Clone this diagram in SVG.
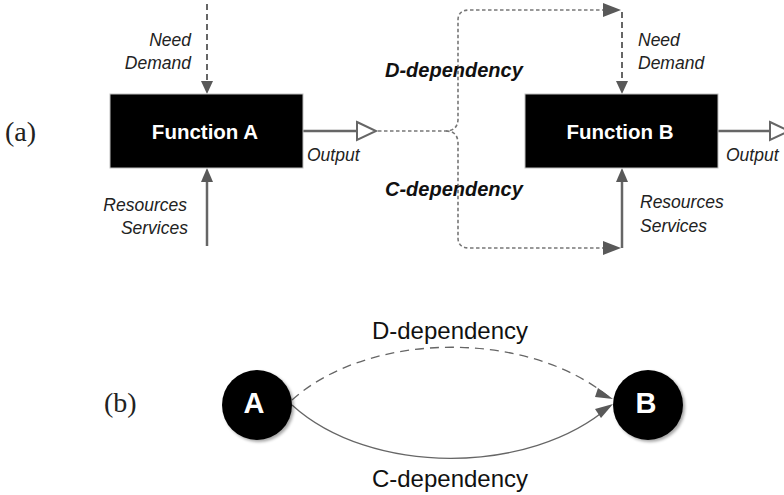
<svg xmlns="http://www.w3.org/2000/svg" width="784" height="495" viewBox="0 0 784 495">
  <style>
    .box { fill: #000; stroke: #bfbfbf; stroke-width: 1; }
    .ftitle { font-family: "Liberation Sans", Arial, sans-serif; font-weight: bold; font-size: 20.5px; fill: #fff; text-anchor: middle; }
    .lab { font-family: "Liberation Sans", Arial, sans-serif; font-style: italic; font-size: 17.5px; fill: #222; }
    .dep { font-family: "Liberation Sans", Arial, sans-serif; font-style: italic; font-weight: bold; font-size: 20px; fill: #111; }
    .tag { font-family: "Liberation Serif", "Times New Roman", serif; font-size: 28px; fill: #222; }
    .plain { font-family: "Liberation Sans", Arial, sans-serif; font-size: 24px; fill: #111; text-anchor: middle; }
    .node { fill: #000; }
    .ntext { font-family: "Liberation Sans", Arial, sans-serif; font-weight: bold; font-size: 29px; fill: #fff; text-anchor: middle; }
    .solid { fill: none; stroke: #666; stroke-width: 2.5; }
    .dash { fill: none; stroke: #666; stroke-width: 2; stroke-dasharray: 6 4; }
    .dot { fill: none; stroke: #777; stroke-width: 1.6; stroke-dasharray: 3.5 2.5; }
    .hollow { fill: #fff; stroke: #666; stroke-width: 2; }
    .head { fill: #595959; }
    .curve { fill: none; stroke: #666; stroke-width: 1.3; }
  </style>
  <defs>
    <filter id="shadow" x="-30%" y="-30%" width="160%" height="160%">
      <feDropShadow dx="2" dy="2" stdDeviation="1.5" flood-color="#000" flood-opacity="0.35"/>
    </filter>
  </defs>

  <!-- panel labels -->
  <text class="tag" x="5" y="141">(a)</text>
  <text class="tag" x="104" y="412">(b)</text>

  <!-- connectors -->
  <g id="connectors">
    <!-- Function A inputs -->
    <line class="dash" x1="207" y1="4" x2="207" y2="82"/>
    <path class="head" d="M201,81 L213,81 L207,94 z"/>
    <line class="solid" x1="207" y1="246" x2="207" y2="181"/>
    <path class="head" d="M201,182 L213,182 L207,168 z"/>
    <!-- Function A output -->
    <line class="solid" x1="303" y1="131" x2="357" y2="131"/>
    <path class="hollow" d="M357,122 L376,131 L357,140 z"/>
    <!-- dotted brace splitting into D and C dependency -->
    <path class="dot" d="M378,131 L446,131 Q457,131 458,120 L458,20 Q458,10 470,10 L604,10"/>
    <path class="dot" d="M446,131 Q457,131 458,142 L458,238 Q458,248 470,248 L604,248"/>
    <path class="head" d="M603,3 L621,10 L603,17 z"/>
    <path class="head" d="M603,241 L621,248 L603,255 z"/>
    <!-- Function B inputs -->
    <line class="dash" x1="622" y1="12" x2="622" y2="82"/>
    <path class="head" d="M616,81 L628,81 L622,94 z"/>
    <line class="solid" x1="622" y1="248" x2="622" y2="181"/>
    <path class="head" d="M616,182 L628,182 L622,168 z"/>
    <!-- Function B output -->
    <line class="solid" x1="718" y1="131" x2="770" y2="131"/>
    <path class="hollow" d="M770,122 L789,131 L770,140 z"/>

    <!-- graph (b) edges -->
    <path class="curve" d="M292,400 C370,330 530,330 610,398" stroke-dasharray="9 6"/>
    <path class="head" d="M598,388 L613,399 L595,397 z"/>
    <path class="curve" d="M292,405 C370,476 530,476 610,406"/>
    <path class="head" d="M595,409 L613,404 L601,418 z"/>
  </g>

  <!-- Function A -->
  <g id="functionA">
    <rect class="box" x="110" y="94" width="193" height="74"/>
    <text class="ftitle" x="205" y="139">Function A</text>
    <text class="lab" x="191" y="46" text-anchor="end">Need</text>
    <text class="lab" x="191" y="69" text-anchor="end">Demand</text>
    <text class="lab" x="187" y="211" text-anchor="end">Resources</text>
    <text class="lab" x="188" y="234" text-anchor="end">Services</text>
    <text class="lab" x="307" y="161">Output</text>
  </g>

  <!-- Function B -->
  <g id="functionB">
    <rect class="box" x="525" y="94" width="193" height="74"/>
    <text class="ftitle" x="620" y="139">Function B</text>
    <text class="lab" x="638" y="46">Need</text>
    <text class="lab" x="638" y="69">Demand</text>
    <text class="lab" x="640" y="208">Resources</text>
    <text class="lab" x="640" y="232">Services</text>
    <text class="lab" x="726" y="161">Output</text>
  </g>

  <!-- dependency labels -->
  <g id="depLabels">
    <text class="dep" x="385" y="77">D-dependency</text>
    <text class="dep" x="385" y="196">C-dependency</text>
  </g>

  <!-- graph (b) nodes -->
  <g id="nodeA">
    <circle class="node" cx="257" cy="405" r="35" filter="url(#shadow)"/>
    <text class="ntext" x="254" y="413">A</text>
  </g>
  <g id="nodeB">
    <circle class="node" cx="648" cy="405" r="35" filter="url(#shadow)"/>
    <text class="ntext" x="646" y="413">B</text>
  </g>
  <g id="graphLabels">
    <text class="plain" x="450" y="339">D-dependency</text>
    <text class="plain" x="450" y="487">C-dependency</text>
  </g>
</svg>
